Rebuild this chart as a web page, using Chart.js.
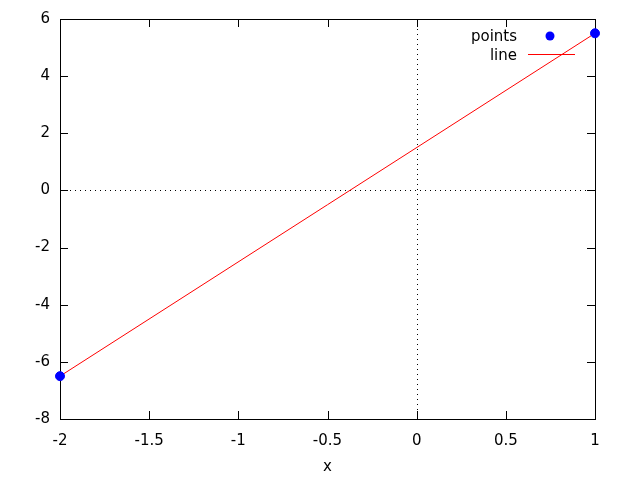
<!DOCTYPE html>
<html>
<head>
<meta charset="utf-8">
<script src="https://cdn.jsdelivr.net/npm/chart.js@4"></script>
<style>
  html, body { margin: 0; padding: 0; background: #fff; }
  #wrap { width: 640px; height: 480px; }
</style>
</head>
<body>
<div id="wrap"><canvas id="plot" width="640" height="480"></canvas></div>
<script>
const pointX = [-2, 1];
const pointY = [-6.5, 5.5];
const lineX = [-2, 1];
const lineY = [-6.5, 5.5];
const xTicks = [-2, -1.5, -1, -0.5, 0, 0.5, 1];
const yTicks = [-8, -6, -4, -2, 0, 2, 4, 6];
const seriesNames = ['points', 'line'];

const FONT = '15px "DejaVu Sans", sans-serif';

// gnuplot look: border box, inward ticks on all sides, dotted zero axes, top-right key
const gnuplotLook = {
    id: 'gnuplotLook',
    beforeDatasetsDraw(chart) {
        const ctx = chart.ctx;
        const a = chart.chartArea;
        const xs = chart.scales.x, ys = chart.scales.y;
        ctx.save();
        ctx.strokeStyle = '#000';
        ctx.lineWidth = 1;
        ctx.setLineDash([1, 4]);
        let zx = Math.round(xs.getPixelForValue(0)) + 0.5;
        let zy = Math.round(ys.getPixelForValue(0)) + 0.5;
        ctx.beginPath();
        ctx.moveTo(zx, a.top); ctx.lineTo(zx, a.bottom);
        ctx.moveTo(a.left, zy); ctx.lineTo(a.right, zy);
        ctx.stroke();
        ctx.setLineDash([]);
        ctx.beginPath();
        const tl = 8;
        xTicks.forEach(v => {
            const p = Math.round(xs.getPixelForValue(v)) + 0.5;
            ctx.moveTo(p, a.bottom); ctx.lineTo(p, a.bottom - tl);
            ctx.moveTo(p, a.top); ctx.lineTo(p, a.top + tl);
        });
        yTicks.forEach(v => {
            const p = Math.round(ys.getPixelForValue(v)) + 0.5;
            ctx.moveTo(a.left, p); ctx.lineTo(a.left + tl, p);
            ctx.moveTo(a.right, p); ctx.lineTo(a.right - tl, p);
        });
        ctx.stroke();
        ctx.strokeRect(Math.round(a.left) + 0.5, Math.round(a.top) + 0.5,
                       Math.round(a.right - a.left), Math.round(a.bottom - a.top));
        ctx.restore();
    },
    afterDraw(chart) {
        const ctx = chart.ctx;
        const a = chart.chartArea;
        ctx.save();
        ctx.font = FONT;
        ctx.fillStyle = '#000';
        ctx.textAlign = 'right';
        ctx.textBaseline = 'middle';
        const tx = a.right - 78, sx = a.right - 45;
        // points entry
        ctx.fillText(seriesNames[0], tx, 37);
        ctx.fillStyle = '#0000ff';
        ctx.beginPath();
        ctx.arc(sx, 36, 4.5, 0, Math.PI * 2);
        ctx.fill();
        // line entry
        ctx.fillStyle = '#000';
        ctx.fillText(seriesNames[1], tx, 56);
        ctx.strokeStyle = '#ff0000';
        ctx.lineWidth = 1;
        ctx.beginPath();
        ctx.moveTo(sx - 22, 54.5); ctx.lineTo(sx + 25, 54.5);
        ctx.stroke();
        ctx.restore();
    }
};

const fmt = v => String(v);

new Chart(document.getElementById('plot'), {
    type: 'scatter',
    data: {
        datasets: [{
            label: seriesNames[0],
            data: pointX.map((x, i) => ({x: x, y: pointY[i]})),
            backgroundColor: '#0000ff',
            borderColor: '#0000ff',
            pointRadius: 4.5,
            showLine: false,
            clip: false,
        }, {
            label: seriesNames[1],
            data: lineX.map((x, i) => ({x: x, y: lineY[i]})),
            borderColor: '#ff0000',
            borderWidth: 1,
            pointRadius: 0,
            showLine: true,
            clip: false,
        }]
    },
    options: {
        responsive: false,
        animation: false,
        layout: { padding: { left: 0, right: 45, top: 18, bottom: 0 } },
        plugins: { legend: { display: false }, tooltip: { enabled: false } },
        scales: {
            x: {
                type: 'linear', min: -2, max: 1,
                afterBuildTicks: s => { s.ticks = xTicks.map(v => ({value: v})); },
                afterFit: s => { s.height = 61; },
                grid: { display: false, drawTicks: false },
                border: { display: false },
                ticks: { color: '#000', font: { family: 'DejaVu Sans', size: 15 }, padding: 13, maxRotation: 0, callback: fmt },
                title: { display: true, text: 'x', color: '#000', font: { family: 'DejaVu Sans', size: 15 }, padding: { top: 6 } }
            },
            y: {
                type: 'linear', min: -8, max: 6,
                afterBuildTicks: s => { s.ticks = yTicks.map(v => ({value: v})); },
                afterFit: s => { s.width = 60; },
                grid: { display: false, drawTicks: false },
                border: { display: false },
                ticks: { color: '#000', font: { family: 'DejaVu Sans', size: 15 }, padding: 10, callback: fmt }
            }
        }
    },
    plugins: [gnuplotLook]
});
</script>
</body>
</html>
